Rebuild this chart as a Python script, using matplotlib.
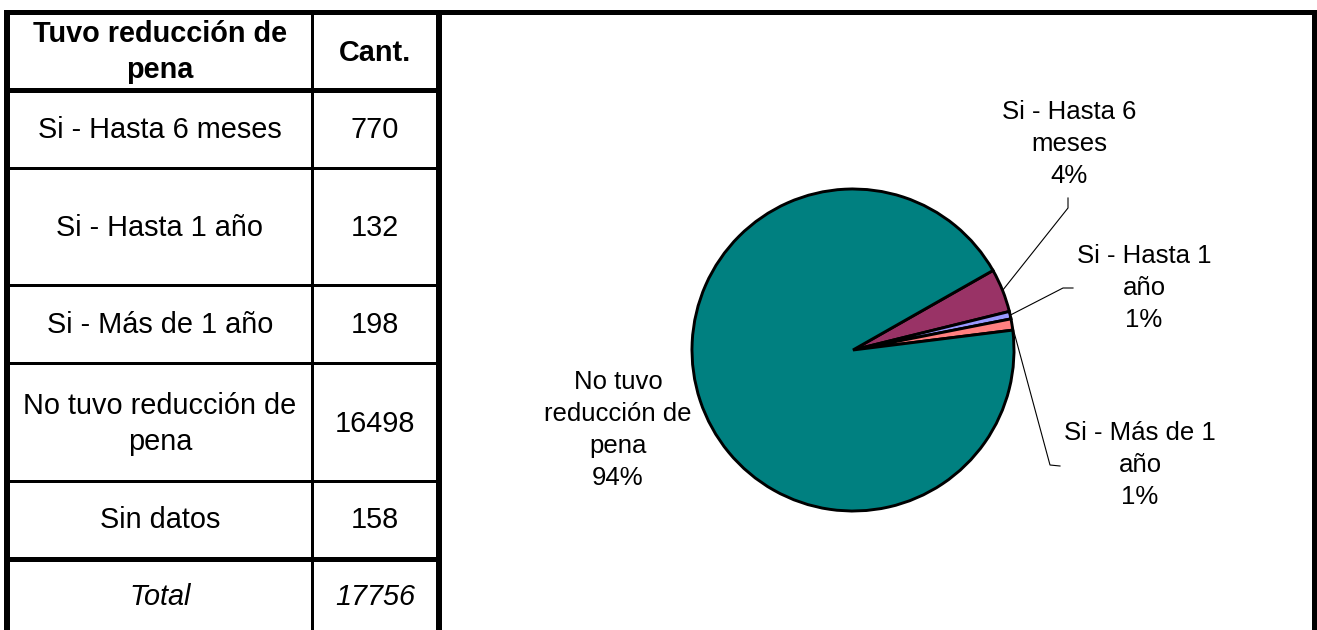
import numpy as np
import matplotlib
matplotlib.use("Agg")
import matplotlib.pyplot as plt
from matplotlib.patches import Rectangle

plt.rcParams['font.family'] = ['Liberation Sans', 'DejaVu Sans']

# ---- data ----
table_header = ["Tuvo reducción de\npena", "Cant."]
row_labels = ["Si - Hasta 6 meses", "Si - Hasta 1 año", "Si - Más de 1 año",
              "No tuvo reducción de\npena", "Sin datos"]
row_values = [770, 132, 198, 16498, 158]
total_label = "Total"
total_value = 17756

pie_labels = ["Si - Hasta 6\nmeses", "Si - Hasta 1\naño", "Si - Más de 1\naño",
              "No tuvo\nreducción de\npena"]
pie_values = [770, 132, 198, 16498]
pie_colors = ["#993366", "#9999FF", "#FF8080", "#008080"]

W, H = 1317, 630
fig = plt.figure(figsize=(W / 100, H / 100), dpi=100)
fig.patch.set_facecolor("white")

ov = fig.add_axes([0, 0, 1, 1])
ov.set_xlim(0, W)
ov.set_ylim(H, 0)
ov.axis("off")


def bar(x0, y0, x1, y1):
    ov.add_patch(Rectangle((x0, y0), x1 - x0, y1 - y0, facecolor="black",
                           edgecolor="none", zorder=5))


# frame
bar(4, 9.5, W, 15)        # top
bar(4, 9.5, 9.5, H)       # left
bar(1312, 9.5, W, H)      # right
bar(310.5, 15, 313.5, H)  # column divider
bar(436, 15, 442, H)      # table right edge

# row separators (y0, y1)
row_lines = [(88, 93), (166.5, 169.5), (284, 287), (362, 365), (480, 483), (557, 562)]
for y0, y1 in row_lines:
    bar(9.5, y0, 436, y1)

c1x, c2x = 160, 375
fs_t = 20.8
ov.text(c1x, 52, table_header[0], ha="center", va="center", fontsize=fs_t,
        fontweight="bold", linespacing=1.33)
ov.text(c2x, 53, table_header[1], ha="center", va="center", fontsize=fs_t,
        fontweight="bold")

row_centers = [130, 228, 325, 424, 520]
for lab, val, yc in zip(row_labels, row_values, row_centers):
    ov.text(c1x, yc, lab, ha="center", va="center", fontsize=fs_t, linespacing=1.33)
    ov.text(c2x, yc, str(val), ha="center", va="center", fontsize=fs_t)
ov.text(c1x, 597, total_label, ha="center", va="center", fontsize=fs_t, style="italic")
ov.text(c2x, 597, str(total_value), ha="center", va="center", fontsize=fs_t, style="italic")

# ---- pie ----
cx, cy, R = 853, 350, 161
pa = fig.add_axes([(cx - R) / W, (H - cy - R) / H, 2 * R / W, 2 * R / H])
start = 29.6
wedges, _ = pa.pie(pie_values, colors=pie_colors, startangle=start, counterclock=False,
                   radius=1, wedgeprops=dict(edgecolor="black", linewidth=2.1))
for w in wedges:
    w.set_clip_on(False)
pa.set_xlim(-1, 1)
pa.set_ylim(-1, 1)
pa.axis("off")

total_pie = sum(pie_values)
pcts = [v / total_pie * 100 for v in pie_values]

fs_p = 18.5
label_pos = [(1069, 144), (1144, 288), (1140, 465), (618, 430)]
# leader line elbows and ends (pixels) for the three small slices
elbows = [((1068, 208), (1068, 198)), ((1063, 288), (1073, 288)), ((1050, 465), (1060, 466))]

for i, (lab, (lx, ly)) in enumerate(zip(pie_labels, label_pos)):
    ov.text(lx, ly, f"{lab}\n{pcts[i]:.0f}%", ha="center", va="center",
            fontsize=fs_p, linespacing=1.42, zorder=6)
    if i < 3:
        w = wedges[i]
        mid = np.deg2rad((w.theta1 + w.theta2) / 2)
        sx = cx + R * np.cos(mid)
        sy = cy - R * np.sin(mid)
        (ex, ey), (fx, fy) = elbows[i]
        ov.plot([sx, ex, fx], [sy, ey, fy], color="black", lw=0.8, zorder=6)

fig.savefig("out.png", dpi=100, facecolor="white")
